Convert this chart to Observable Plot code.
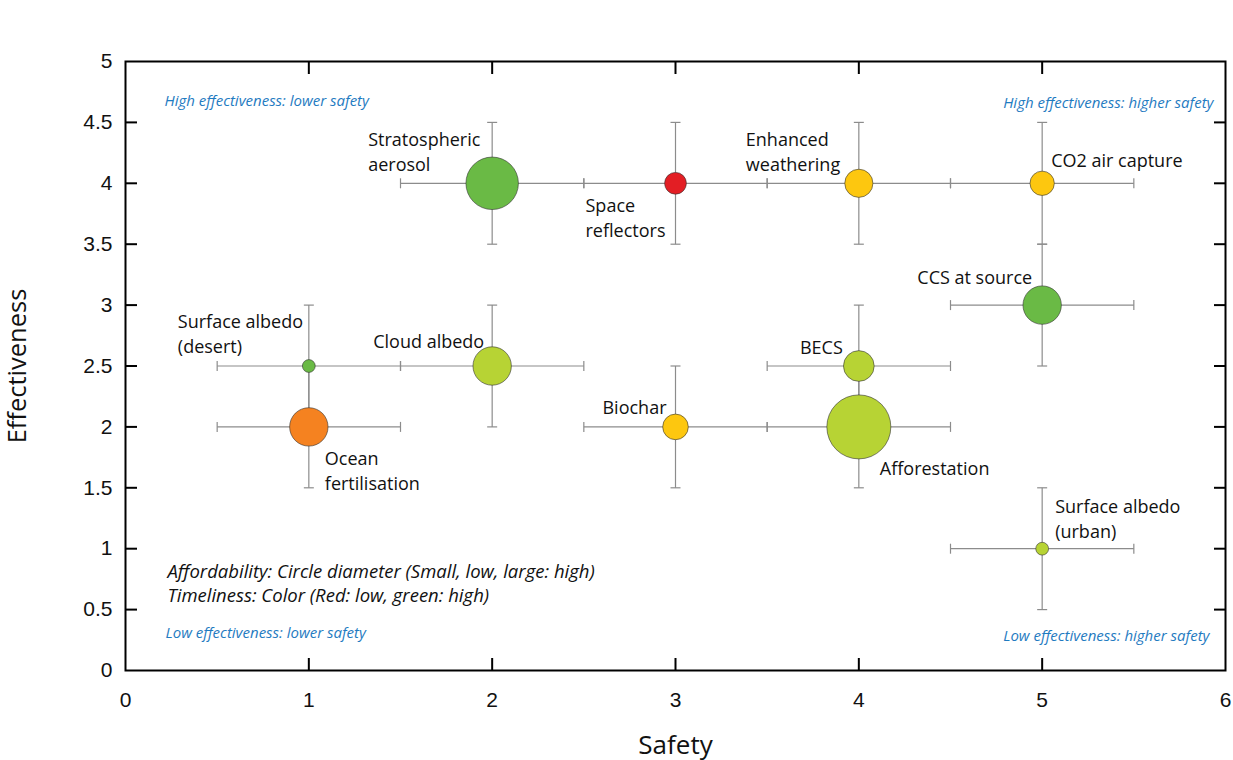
<!DOCTYPE html>
<html>
<head>
<meta charset="utf-8">
<script src="https://cdn.jsdelivr.net/npm/d3@7"></script>
<script src="https://cdn.jsdelivr.net/npm/@observablehq/plot@0.6"></script>
<style>
  html, body { margin: 0; padding: 0; background: #fff; }
  #chart svg { display: block; }
</style>
</head>
<body>
<div id="chart"></div>
<script>
// ---- Data ----
const methods = ["Stratospheric\naerosol", "Space\nreflectors", "Enhanced\nweathering", "CO2 air capture",
  "CCS at source", "Surface albedo\n(desert)", "Cloud albedo", "Ocean\nfertilisation",
  "Biochar", "BECS", "Afforestation", "Surface albedo\n(urban)"];
const safety = [2, 3, 4, 5, 5, 1, 2, 1, 3, 4, 4, 5];
const effectiveness = [4, 4, 4, 4, 3, 2.5, 2.5, 2, 2, 2.5, 2, 1];
const safetyLow = [1.5, 2.5, 3.5, 4.5, 4.5, 0.5, 1.5, 0.5, 2.5, 3.5, 3.5, 4.5];
const safetyHigh = [2.5, 3.5, 4.5, 5.5, 5.5, 1.5, 2.5, 1.5, 3.5, 4.5, 4.5, 5.5];
const effLow = [3.5, 3.5, 3.5, 3.5, 2.5, 2, 2, 1.5, 1.5, 2, 1.5, 0.5];
const effHigh = [4.5, 4.5, 4.5, 4.5, 3.5, 3, 3, 2.5, 2.5, 3, 2.5, 1.5];
const affordability = [4.1, 1.7, 2.2, 1.9, 3.0, 1.0, 3.0, 3.0, 2.0, 2.4, 5.0, 1.0];
const timeliness = [5, 1, 3, 3, 5, 5, 4, 2, 3, 4, 4, 4];
const xTicks = [0, 1, 2, 3, 4, 5, 6];
const yTicks = [0, 0.5, 1, 1.5, 2, 2.5, 3, 3.5, 4, 4.5, 5];
const quadrantNotes = ["High effectiveness: lower safety", "High effectiveness: higher safety",
  "Low effectiveness: lower safety", "Low effectiveness: higher safety"];
const legendNotes = "Affordability: Circle diameter (Small, low, large: high)\nTimeliness: Color (Red: low, green: high)";

// ---- Layout for labels (pixel offsets, anchor) ----
const labelLayout = [
  {dx: -124, dy: -32.5, anchor: "start"},
  {dx: -90, dy: 33.5, anchor: "start"},
  {dx: -113, dy: -32.5, anchor: "start"},
  {dx: 9, dy: -24, anchor: "start"},
  {dx: -10, dy: -29, anchor: "end"},
  {dx: -131, dy: -33.5, anchor: "start"},
  {dx: -8, dy: -26, anchor: "end"},
  {dx: 16, dy: 42.5, anchor: "start"},
  {dx: -9, dy: -21, anchor: "end"},
  {dx: -16, dy: -20, anchor: "end"},
  {dx: 21, dy: 40, anchor: "start"},
  {dx: 13, dy: -31.5, anchor: "start"}
];

const rows = methods.map((m, i) => ({
  name: m, x: safety[i], y: effectiveness[i],
  x1: safetyLow[i], x2: safetyHigh[i], y1: effLow[i], y2: effHigh[i],
  a: affordability[i], t: timeliness[i], ...labelLayout[i]
}));

const vCap = {draw(ctx, size) { const h = Math.sqrt(size / Math.PI); ctx.moveTo(0, -h); ctx.lineTo(0, h); }};
const hCap = {draw(ctx, size) { const h = Math.sqrt(size / Math.PI); ctx.moveTo(-h, 0); ctx.lineTo(h, 0); }};

const barColor = "#8c8c8c";
const labelFont = "'Open Sans', 'Noto Sans', sans-serif";
const tickFont = "'Liberation Sans', Arial, sans-serif";
const blue = "#1f7bc1";

const labelMarks = [];
for (const r of rows) {
  labelMarks.push(Plot.text([r], {x: "x", y: "y", text: "name", dx: r.dx, dy: r.dy,
    textAnchor: r.anchor, lineAnchor: "middle", lineHeight: 1.39, fontSize: 18, fill: "#111",
    fontFamily: labelFont}));
}

const chart = Plot.plot({
  width: 1233,
  height: 760,
  marginLeft: 125,
  marginRight: 8,
  marginTop: 61,
  marginBottom: 90,
  style: {fontFamily: tickFont, background: "#fff", overflow: "visible"},
  x: {domain: [0, 6], axis: null},
  y: {domain: [0, 5], axis: null},
  r: {type: "linear", domain: [0, 5], range: [0, 32]},
  color: {type: "ordinal", domain: [1, 2, 3, 4, 5], range: ["#e31e24", "#f58220", "#fdc70f", "#b7d334", "#6aba45"]},
  marks: [
    // error bars
    Plot.link(rows, {x1: "x1", x2: "x2", y1: "y", y2: "y", stroke: barColor, strokeWidth: 1.2}),
    Plot.link(rows, {x1: "x", x2: "x", y1: "y1", y2: "y2", stroke: barColor, strokeWidth: 1.2}),
    Plot.dot(rows, {x: "x1", y: "y", symbol: vCap, r: 5, stroke: barColor, strokeWidth: 1.2}),
    Plot.dot(rows, {x: "x2", y: "y", symbol: vCap, r: 5, stroke: barColor, strokeWidth: 1.2}),
    Plot.dot(rows, {x: "x", y: "y1", symbol: hCap, r: 5, stroke: barColor, strokeWidth: 1.2}),
    Plot.dot(rows, {x: "x", y: "y2", symbol: hCap, r: 5, stroke: barColor, strokeWidth: 1.2}),
    // circles
    Plot.dot(rows, {x: "x", y: "y", r: "a", fill: "t", stroke: "#333", strokeWidth: 0.6}),
    ...labelMarks,
    // quadrant notes
    Plot.text([quadrantNotes[0]], {frameAnchor: "top-left", dx: 39, dy: 40, textAnchor: "start", lineAnchor: "middle", fill: blue, fontSize: 15, fontStyle: "italic", fontFamily: labelFont}),
    Plot.text([quadrantNotes[1]], {frameAnchor: "top-right", dx: -12, dy: 42, textAnchor: "end", lineAnchor: "middle", fill: blue, fontSize: 15, fontStyle: "italic", fontFamily: labelFont}),
    Plot.text([quadrantNotes[2]], {frameAnchor: "bottom-left", dx: 40, dy: -37, textAnchor: "start", lineAnchor: "middle", fill: blue, fontSize: 15, fontStyle: "italic", fontFamily: labelFont}),
    Plot.text([quadrantNotes[3]], {frameAnchor: "bottom-right", dx: -16, dy: -34, textAnchor: "end", lineAnchor: "middle", fill: blue, fontSize: 15, fontStyle: "italic", fontFamily: labelFont}),
    Plot.text([legendNotes], {frameAnchor: "bottom-left", dx: 42, dy: -88, textAnchor: "start", lineAnchor: "middle", lineHeight: 1.3, fill: "#111", fontSize: 18.5, fontStyle: "italic", fontFamily: labelFont}),
    // frame and ticks
    Plot.frame({stroke: "#000", strokeWidth: 2}),
    Plot.axisX(xTicks.slice(1, -1), {anchor: "bottom", tickSize: -12, text: null, strokeWidth: 2, stroke: "#000", label: null}),
    Plot.axisX(xTicks.slice(1, -1), {anchor: "top", tickSize: -12, text: null, strokeWidth: 2, stroke: "#000", label: null}),
    Plot.axisY(yTicks.slice(1, -1), {anchor: "left", tickSize: -12, text: null, strokeWidth: 2, stroke: "#000", label: null}),
    Plot.axisY(yTicks.slice(1, -1), {anchor: "right", tickSize: -12, text: null, strokeWidth: 2, stroke: "#000", label: null}),
    // tick labels
    Plot.text(xTicks, {x: d => d, frameAnchor: "bottom", dy: 30, lineAnchor: "middle", text: d => String(d), fontSize: 21, fill: "#111", fontFamily: tickFont}),
    Plot.text(yTicks, {y: d => d, frameAnchor: "left", dx: -13, textAnchor: "end", lineAnchor: "middle", text: d => String(d), fontSize: 21, fill: "#111", fontFamily: tickFont}),
    // axis titles
    Plot.text(["Safety"], {frameAnchor: "bottom", dy: 75, lineAnchor: "middle", fontSize: 26, fill: "#111", fontFamily: labelFont}),
    Plot.text(["Effectiveness"], {frameAnchor: "left", dx: -108, rotate: -90, textAnchor: "middle", lineAnchor: "middle", fontSize: 25.5, fill: "#111", fontFamily: labelFont})
  ]
});
document.getElementById("chart").appendChild(chart);
</script>
</body>
</html>
